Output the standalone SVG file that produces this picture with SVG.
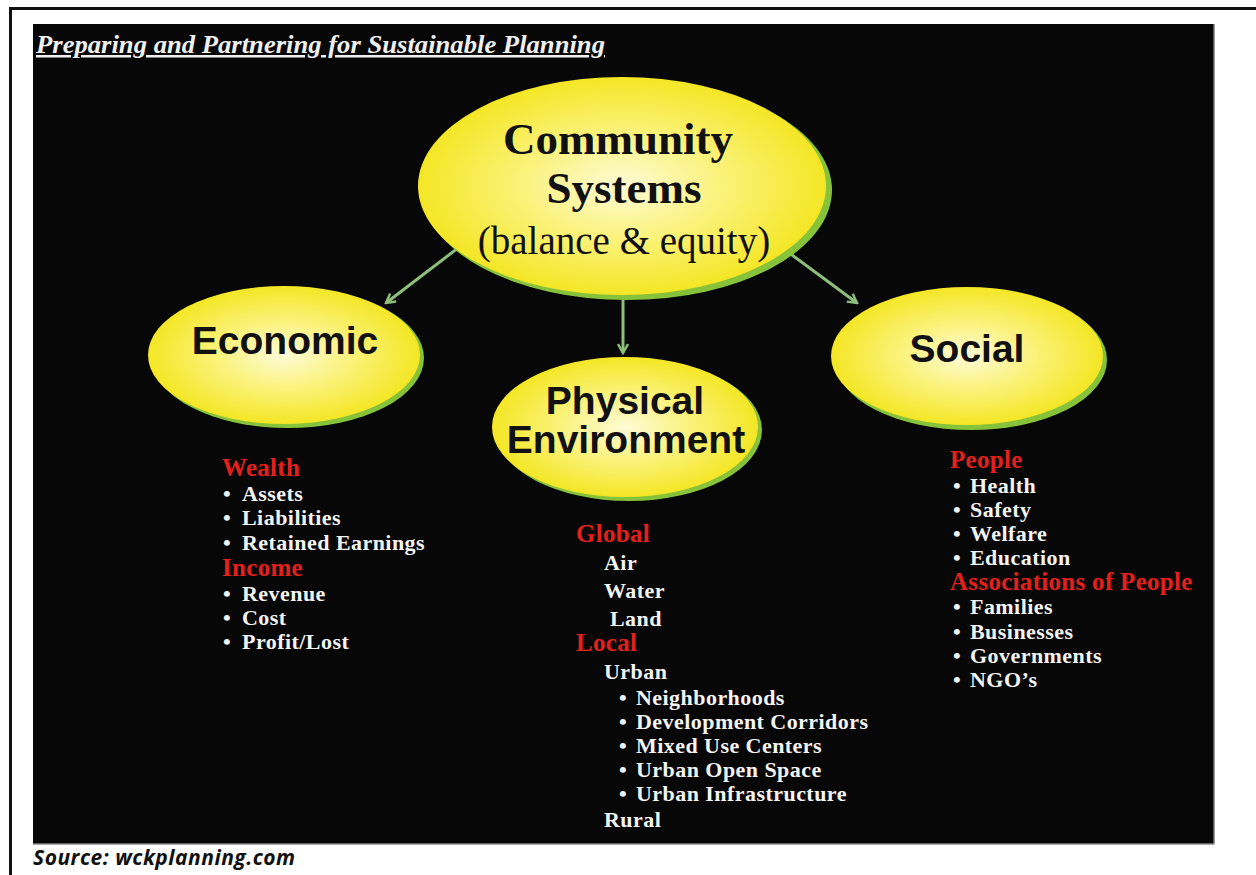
<svg xmlns="http://www.w3.org/2000/svg" width="1256" height="875" viewBox="0 0 1256 875">
  <defs>
    <radialGradient id="glow" cx="50%" cy="50%" r="55%">
      <stop offset="0" stop-color="#fdfbd6"/>
      <stop offset="0.45" stop-color="#fbf27a"/>
      <stop offset="1" stop-color="#f3e414"/>
    </radialGradient>
    <marker id="head" viewBox="0 0 12 12" refX="10" refY="6" markerWidth="12" markerHeight="12" markerUnits="userSpaceOnUse" orient="auto">
      <path d="M1,1 L10,6 L1,11" fill="none" stroke="#8dbf7a" stroke-width="2.4"/>
    </marker>
    <style>
      .rim { fill: #86c23a; }
      .bubble { fill: url(#glow); }
      .hdr { font-family: "Liberation Serif", serif; font-weight: bold; fill: #111; text-anchor: middle; }
      .sans { font-family: "Liberation Sans", Arial, sans-serif; font-weight: bold; fill: #111; text-anchor: middle; font-size: 39px; }
      .item { font-family: "Liberation Serif", serif; font-weight: bold; font-size: 22px; letter-spacing: 0.45px; fill: #f4f4f4; }
      .cat { font-family: "Liberation Serif", serif; font-weight: bold; font-size: 25px; letter-spacing: 0.3px; fill: #e3201c; }
      .edge { stroke: #8dbf7a; stroke-width: 3; fill: none; marker-end: url(#head); }
    </style>
  </defs>

  <rect x="0" y="0" width="1256" height="875" fill="#ffffff"/>
  <!-- outer frame -->
  <line x1="10" y1="8.5" x2="1256" y2="8.5" stroke="#111" stroke-width="3"/>
  <line x1="10.5" y1="7" x2="10.5" y2="875" stroke="#111" stroke-width="3"/>

  <!-- dark panel -->
  <rect x="33" y="24" width="1181" height="820" fill="#070707"/>
  <line x1="1214" y1="24" x2="1214" y2="844" stroke="#777" stroke-width="1.5"/>
  <line x1="33" y1="844" x2="1214" y2="844" stroke="#888" stroke-width="1.5"/>

  <text x="36" y="53" font-family="Liberation Serif, serif" font-weight="bold" font-style="italic" font-size="25" fill="#f0f0f0" text-decoration="underline" textLength="569" lengthAdjust="spacingAndGlyphs">Preparing and Partnering for Sustainable Planning</text>

  <!-- connectors -->
  <g id="connectors">
    <line class="edge" x1="458" y1="248" x2="386" y2="303"/>
    <line class="edge" x1="623" y1="298" x2="623" y2="353"/>
    <line class="edge" x1="788" y1="252" x2="857" y2="303"/>
  </g>

  <g id="community">
    <ellipse class="rim" cx="627" cy="190" rx="205" ry="110"/>
    <ellipse class="bubble" cx="622" cy="186" rx="204" ry="109"/>
    <text class="hdr" x="618" y="154" font-size="45">Community</text>
    <text class="hdr" x="624" y="203" font-size="45">Systems</text>
    <text x="624" y="254" font-family="Liberation Serif, serif" font-size="39" fill="#111" text-anchor="middle">(balance &amp; equity)</text>
  </g>

  <g id="economic">
    <ellipse class="rim" cx="288" cy="358" rx="136" ry="70"/>
    <ellipse class="bubble" cx="284" cy="355" rx="136" ry="69"/>
    <text class="sans" x="285" y="354">Economic</text>
  </g>

  <g id="physical">
    <ellipse class="rim" cx="629" cy="430" rx="133" ry="71"/>
    <ellipse class="bubble" cx="625" cy="427" rx="133" ry="70"/>
    <text class="sans" x="625" y="414">Physical</text>
    <text class="sans" x="626" y="453">Environment</text>
  </g>

  <g id="social">
    <ellipse class="rim" cx="971" cy="360" rx="136" ry="70"/>
    <ellipse class="bubble" cx="967" cy="356" rx="136" ry="69"/>
    <text class="sans" x="967" y="362">Social</text>
  </g>

  <g id="economic-list">
    <text class="cat" x="222" y="476">Wealth</text>
    <text class="item" x="223" y="501">•<tspan x="242">Assets</tspan></text>
    <text class="item" x="223" y="525">•<tspan x="242">Liabilities</tspan></text>
    <text class="item" x="223" y="550">•<tspan x="242">Retained Earnings</tspan></text>
    <text class="cat" x="222" y="576">Income</text>
    <text class="item" x="223" y="601">•<tspan x="242">Revenue</tspan></text>
    <text class="item" x="223" y="625">•<tspan x="242">Cost</tspan></text>
    <text class="item" x="223" y="649">•<tspan x="242">Profit/Lost</tspan></text>
  </g>

  <g id="physical-list">
    <text class="cat" x="576" y="542">Global</text>
    <text class="item" x="604" y="570">Air</text>
    <text class="item" x="604" y="598">Water</text>
    <text class="item" x="610" y="626">Land</text>
    <text class="cat" x="576" y="651">Local</text>
    <text class="item" x="604" y="679">Urban</text>
    <text class="item" x="619" y="705">•<tspan x="636">Neighborhoods</tspan></text>
    <text class="item" x="619" y="729">•<tspan x="636">Development Corridors</tspan></text>
    <text class="item" x="619" y="753">•<tspan x="636">Mixed Use Centers</tspan></text>
    <text class="item" x="619" y="777">•<tspan x="636">Urban Open Space</tspan></text>
    <text class="item" x="619" y="801">•<tspan x="636">Urban Infrastructure</tspan></text>
    <text class="item" x="604" y="827">Rural</text>
  </g>

  <g id="social-list">
    <text class="cat" x="950" y="468">People</text>
    <text class="item" x="953" y="493">•<tspan x="970">Health</tspan></text>
    <text class="item" x="953" y="517">•<tspan x="970">Safety</tspan></text>
    <text class="item" x="953" y="541">•<tspan x="970">Welfare</tspan></text>
    <text class="item" x="953" y="565">•<tspan x="970">Education</tspan></text>
    <text class="cat" x="950" y="590" font-weight="normal">Associations of People</text>
    <text class="item" x="953" y="614">•<tspan x="970">Families</tspan></text>
    <text class="item" x="953" y="639">•<tspan x="970">Businesses</tspan></text>
    <text class="item" x="953" y="663">•<tspan x="970">Governments</tspan></text>
    <text class="item" x="953" y="687">•<tspan x="970">NGO’s</tspan></text>
  </g>

  <text x="33" y="865" font-family="Open Sans, Liberation Sans, sans-serif" font-weight="bold" font-style="italic" font-size="21" letter-spacing="0.5" fill="#111">Source: wckplanning.com</text>
</svg>
